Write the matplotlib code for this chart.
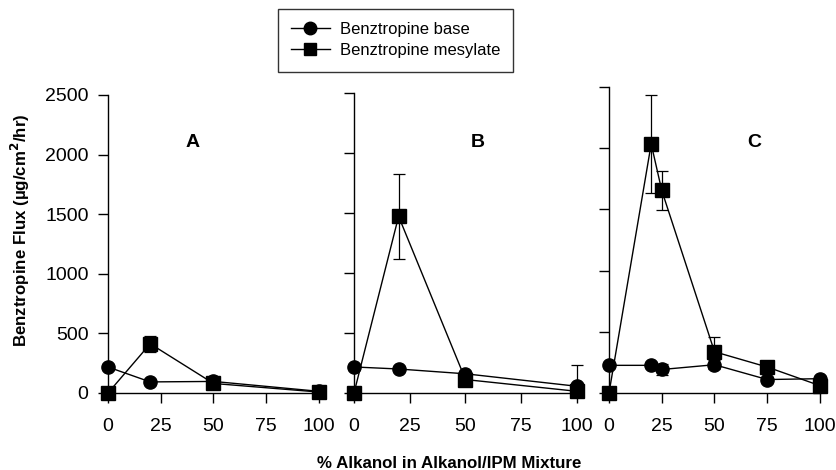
import matplotlib
matplotlib.use("Agg")
import matplotlib.pyplot as plt
from matplotlib.lines import Line2D

plt.rcParams['font.family'] = ['Liberation Sans', 'DejaVu Sans']

# ---- data ----
panel_labels = ["A", "B", "C"]
x_ticks = [0, 25, 50, 75, 100]
y_ticks = [0, 500, 1000, 1500, 2000, 2500]

a_x = [0, 20, 50, 100]
a_base = [218, 93, 97, 14]
a_mes = [0, 413, 80, 8]
a_mes_err = [0, 65, 0, 0]

b_x = [0, 20, 50, 100]
b_base = [217, 200, 160, 56]
b_base_err_lo = [0, 0, 0, 0]
b_base_err_hi = [0, 0, 0, 175]
b_mes = [0, 1472, 112, 14]
b_mes_err = [0, 355, 0, 0]

c_x = [0, 20, 25, 50, 75, 100]
c_base = [226, 226, 192, 231, 110, 117]
c_base_err = [0, 0, 48, 35, 0, 0]
c_mes = [0, 2035, 1655, 337, 212, 60]
c_mes_err = [0, 400, 160, 120, 0, 0]

series_names = ["Benztropine base", "Benztropine mesylate"]

fig = plt.figure(figsize=(8.37, 4.70), dpi=100)
W, H = 837.0, 470.0

def add_axes(x0, x100, y0px, ytop_px):
    per = (y0px - ytop_px) / 2500.0
    ybot = y0px + 40 * per
    return fig.add_axes([x0 / W, 1 - ybot / H, (x100 - x0) / W, (ybot - ytop_px) / H])

axes = [add_axes(108, 319, 393, 95),
        add_axes(354, 577, 393, 93),
        add_axes(609, 820, 393, 87)]

mk = dict(color='black', lw=1.0, ms=9.5, clip_on=False, zorder=3)
eb = dict(fmt='none', ecolor='black', elinewidth=0.9, capsize=4, capthick=0.9, clip_on=False, zorder=2)

ax = axes[0]
ax.errorbar(a_x, a_mes, yerr=a_mes_err, **eb)
ax.plot(a_x, a_base, marker='o', **mk)
ax.plot(a_x, a_mes, marker='s', **mk)

ax = axes[1]
ax.errorbar(b_x, b_mes, yerr=b_mes_err, **eb)
ax.errorbar(b_x, b_base, yerr=[b_base_err_lo, b_base_err_hi], **eb)
ax.plot(b_x, b_base, marker='o', **mk)
ax.plot(b_x, b_mes, marker='s', **mk)

ax = axes[2]
ax.errorbar(c_x, c_mes, yerr=c_mes_err, **eb)
ax.errorbar(c_x, c_base, yerr=c_base_err, **eb)
ax.plot(c_x, c_base, marker='o', **mk)
ax.plot(c_x, c_mes, marker='s', **mk)

label_pos = [(40, 2100), (55.6, 2090), (68.7, 2050)]
for i, ax in enumerate(axes):
    ax.set_xlim(0, 100)
    ax.set_ylim(-40, 2500)
    ax.spines['top'].set_visible(False)
    ax.spines['right'].set_visible(False)
    ax.spines['bottom'].set_position(('data', 0))
    ax.spines['bottom'].set_bounds(0, 100)
    ax.spines['left'].set_linewidth(1.0)
    ax.spines['bottom'].set_linewidth(1.0)
    ax.set_xticks(x_ticks)
    ax.set_xticklabels([str(t) for t in x_ticks])
    ax.set_yticks(y_ticks)
    if i == 0:
        ax.set_yticklabels([str(t) for t in y_ticks])
    else:
        ax.set_yticklabels([])
    ax.tick_params(axis='both', direction='out', length=7, width=1.0, labelsize=14)
    ax.tick_params(axis='y', pad=7)
    ax.tick_params(axis='x', pad=11)
    ax.patch.set_visible(False)
    ax.text(label_pos[i][0], label_pos[i][1], panel_labels[i], fontsize=14,
            fontweight='bold', ha='center', va='center')

fig.text(20 / W, 1 - 230 / H, "Benztropine Flux (µg/cm$^\\mathbf{2}$/hr)", rotation=90,
         fontsize=12.2, fontweight='bold', ha='center', va='center')
fig.text(449 / W, 1 - 463 / H, "% Alkanol in Alkanol/IPM Mixture",
         fontsize=12.2, fontweight='bold', ha='center', va='center')

handles = [Line2D([], [], color='black', lw=1.0, marker='o', ms=9),
           Line2D([], [], color='black', lw=1.0, marker='s', ms=8)]
leg = fig.legend(handles, series_names, loc='upper left',
                 bbox_to_anchor=(278 / W, 1 - 9 / H), fontsize=12,
                 frameon=True, fancybox=False, edgecolor='black', borderaxespad=0,
                 handlelength=2.3, borderpad=0.8, labelspacing=0.35, handletextpad=0.6)
leg.get_frame().set_linewidth(1.0)

fig.savefig("out.png", dpi=100)
